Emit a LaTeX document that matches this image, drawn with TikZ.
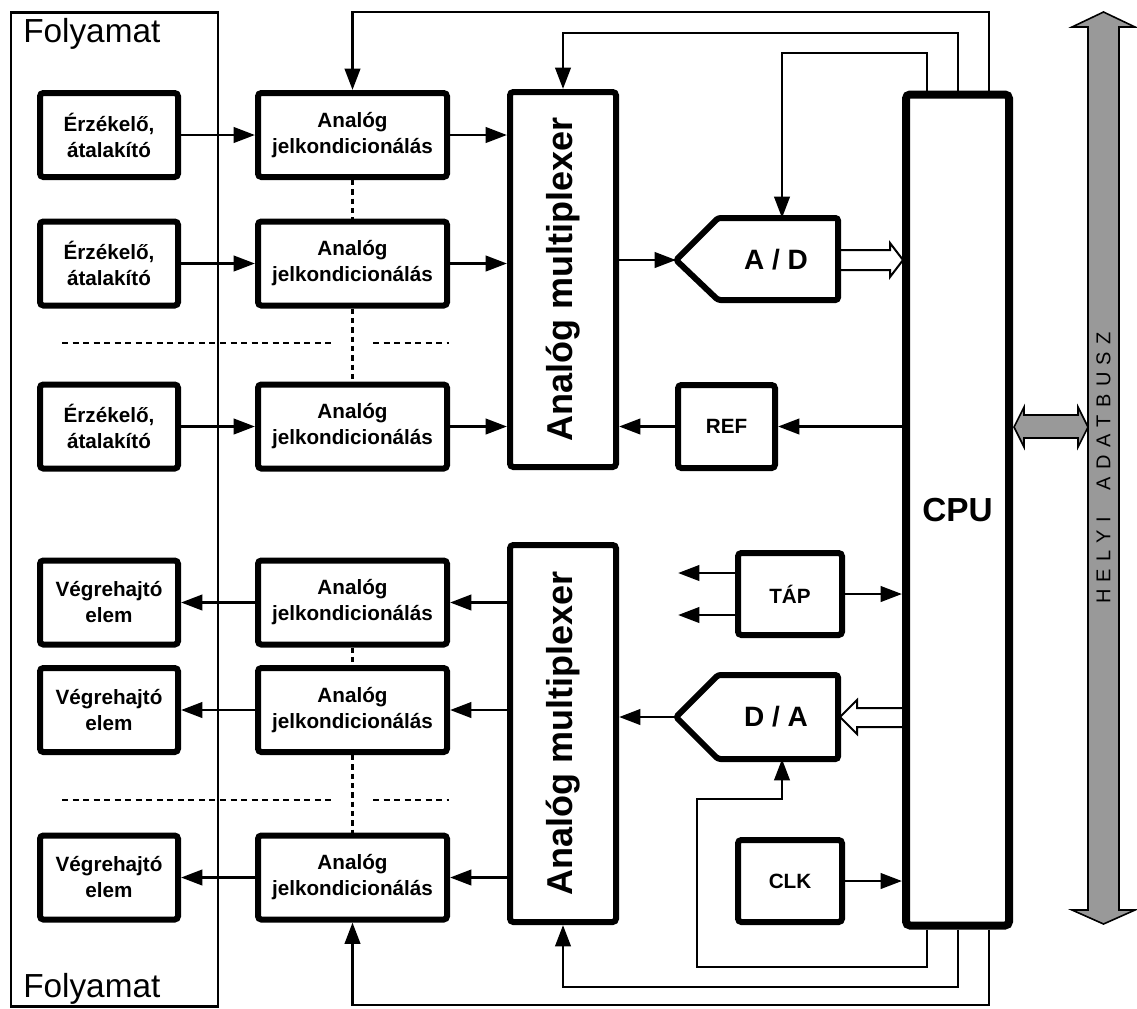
\documentclass[tikz,border=0pt]{standalone}
\usepackage{fontspec}
\setmainfont{Liberation Sans}
\setsansfont{Liberation Sans}
\usetikzlibrary{arrows.meta}
\newcommand\myls{\kern5.5pt}
\begin{document}
\begin{tikzpicture}[x=0.75pt,y=-0.75pt,
  wire/.style={line width=2.2pt},
  arr/.style={wire,-{Triangle[length=16pt,width=11.5pt]}},
  blk/.style={draw,line width=4.5pt,rounded corners=2.5pt,fill=white,align=center,inner sep=0pt,
     font=\bfseries\fontsize{15.5pt}{19.5pt}\selectfont},
  sbox/.style={blk,minimum width=103.5pt,minimum height=63pt},
  abox/.style={blk,minimum width=141.75pt,minimum height=63pt},
  mbox/.style={blk,minimum width=79.5pt},
  smallbox/.style={blk,minimum width=78pt,minimum height=61.5pt},
  cpubox/.style={draw,line width=6pt,rounded corners=3pt,fill=white,inner sep=0pt,
     minimum width=77.25pt,minimum height=623.25pt,font=\bfseries\fontsize{25pt}{30pt}\selectfont},
  conv/.style={draw,line width=4.5pt,rounded corners=2pt,fill=white},
  hollow/.style={draw,line width=1.5pt,fill=white,line join=miter},
  busarr/.style={draw,line width=1.2pt,fill=black!40,line join=miter},
  dsh/.style={line width=1.9pt,dash pattern=on 4.5pt off 3.4pt},
  vdot/.style={line width=1.9pt,dash pattern=on 4pt off 3pt},
  mtext/.style={rotate=90,font=\bfseries\fontsize{27pt}{32pt}\selectfont,inner sep=0pt},
  cvtext/.style={font=\bfseries\fontsize{21pt}{25pt}\selectfont,inner sep=0pt},
  foltext/.style={anchor=base west,inner sep=0pt,font=\fontsize{25pt}{30pt}\selectfont}
]
\useasboundingbox (0,0) rectangle (1137,1008);

% process frame
\node[draw,wire,minimum width=155.25pt,minimum height=745.5pt,inner sep=0pt] (proc) at (114.5,509.5) {};
\node[foltext] (fol1) at (23,42) {Folyamat};
\node[foltext] (fol2) at (23,997) {Folyamat};

% sensors and actuators
\node[sbox] (s1) at (109,135) {Érzékelő,\\átalakító};
\node[sbox] (s2) at (109,263.5) {Érzékelő,\\átalakító};
\node[sbox] (s3) at (109,426.5) {Érzékelő,\\átalakító};
\node[sbox] (v1) at (109,602.5) {Végrehajtó\\elem};
\node[sbox] (v2) at (109,710) {Végrehajtó\\elem};
\node[sbox] (v3) at (109,877.5) {Végrehajtó\\elem};

% conditioning
\node[abox] (a1) at (352.5,135) {Analóg\\jelkondicionálás};
\node[abox] (a2) at (352.5,263.5) {Analóg\\jelkondicionálás};
\node[abox] (a3) at (352.5,426.5) {Analóg\\jelkondicionálás};
\node[abox] (a4) at (352.5,602.5) {Analóg\\jelkondicionálás};
\node[abox] (a5) at (352.5,710) {Analóg\\jelkondicionálás};
\node[abox] (a6) at (352.5,877.5) {Analóg\\jelkondicionálás};

% multiplexers
\node[mbox,minimum height=281.25pt] (mux1) at (563,279.5) {};
\node[mtext] (mux1t) at (mux1) {Analóg multiplexer};
\node[mbox,minimum height=282.75pt] (mux2) at (563,733.5) {};
\node[mtext] (mux2t) at (mux2) {Analóg multiplexer};

% hollow bus arrows to/from CPU
\draw[hollow] (838,250) -- (890,250) -- (890,243) -- (903,260) -- (890,277) -- (890,270) -- (838,270) -- cycle;
\draw[hollow] (904,708) -- (857,708) -- (857,700) -- (840,717) -- (857,734) -- (857,727) -- (904,727);

% converters
\coordinate (adtip) at (676,260);
\coordinate (adtop) at (782,218);
\draw[conv] (adtip) -- (718,218) -- (838,218) -- (838,300) -- (718,300) -- cycle;
\node[cvtext] (ad) at (776,260) {A / D};
\coordinate (datip) at (676,717);
\coordinate (dabot) at (782,759);
\draw[conv] (datip) -- (718,675) -- (838,675) -- (838,759) -- (718,759) -- cycle;
\node[cvtext] (da) at (776,717) {D / A};

% small boxes
\node[blk,minimum width=72.75pt,minimum height=62.25pt] (ref) at (726.5,426.5) {REF};
\node[smallbox] (tap) at (790,594) {TÁP};
\node[smallbox] (clk) at (790,881) {CLK};

% CPU
\node[cpubox] (cpu) at (957.5,510) {CPU};

% dotted / dashed separators
\draw[vdot] (a1.south) -- (a2.north);
\draw[vdot] (a2.south) -- (a3.north);
\draw[vdot] (a4.south) -- (a5.north);
\draw[vdot] (a5.south) -- (a6.north);
\draw[dsh] (62,343) -- (333,343);
\draw[dsh] (373,343) -- (449,343);
\draw[dsh] (62,800) -- (333,800);
\draw[dsh] (373,800) -- (449,800);

% signal arrows
\foreach \i in {1,2,3} {
  \draw[arr] (s\i) -- (a\i);
  \draw[arr] (a\i.east) -- (a\i.east -| mux1.west);
}
\foreach \i/\j in {4/1,5/2,6/3} {
  \draw[arr] (a\i.east -| mux2.west) -- (a\i.east);
  \draw[arr] (a\i) -- (v\j);
}
\draw[arr] (mux1.east |- adtip) -- (adtip);
\draw[arr] (datip) -- (datip -| mux2.east);
\draw[arr] (cpu.west |- ref) -- (ref.east);
\draw[arr] (ref.west) -- (ref.west -| mux1.east);
\coordinate (tl1) at (678,573);
\coordinate (tl2) at (678,615);
\draw[arr] (tl1 -| tap.west) -- (tl1);
\draw[arr] (tl2 -| tap.west) -- (tl2);
\draw[arr] (tap.east) -- (tap.east -| cpu.west);
\draw[arr] (clk.east) -- (clk.east -| cpu.west);

% control wires
\coordinate (xA) at (927,0);
\coordinate (xB) at (958,0);
\coordinate (xC) at (989,0);
\draw[arr] (xA |- cpu.north) -- (927,53) -| (adtop);
\draw[arr] (xB |- cpu.north) -- (958,33) -| (mux1.north);
\draw[arr] (xC |- cpu.north) -- (989,12) -| (a1.north);
\draw[arr] (xA |- cpu.south) -- (927,967) -- (697,967) -- (697,799) -| (dabot);
\draw[arr] (xB |- cpu.south) -- (958,987) -| (mux2.south);
\draw[arr] (xC |- cpu.south) -- (989,1005) -| (a6.south);

% local data bus
\draw[busarr] (1014,427) -- (1024,407) -- (1024,415) -- (1078,415) -- (1078,407) -- (1088,427)
  -- (1078,447) -- (1078,438) -- (1024,438) -- (1024,447) -- cycle;
\draw[busarr] (1088,27) -- (1072,27) -- (1103.5,12) -- (1135,27) -- (1119,27) -- (1119,910)
  -- (1135,910) -- (1103.5,924) -- (1072,910) -- (1088,910) -- cycle;
\node[rotate=90,inner sep=0pt,font=\fontsize{15pt}{18pt}\selectfont] (bus) at (1103.5,468)
  {H\myls E\myls L\myls Y\myls I\hspace{20pt}A\myls D\myls A\myls T\myls B\myls U\myls S\myls Z};
\end{tikzpicture}
\end{document}
